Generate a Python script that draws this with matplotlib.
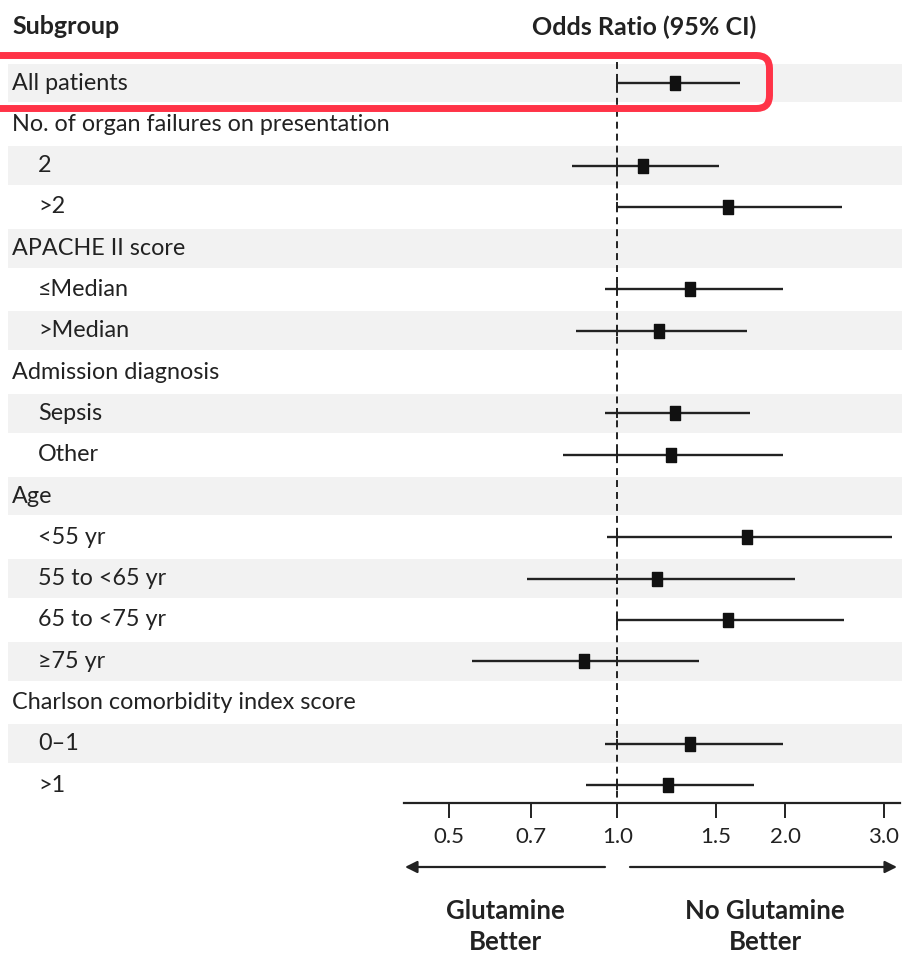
import numpy as np
import matplotlib
matplotlib.use("Agg")
import matplotlib.pyplot as plt
from matplotlib.patches import FancyBboxPatch
from matplotlib.transforms import IdentityTransform, blended_transform_factory

plt.rcParams['font.family'] = ['Lato', 'DejaVu Sans']
plt.rcParams['lines.scale_dashes'] = False

# subgroup rows, top to bottom
labels = ['All patients', 'No. of organ failures on presentation', '2', '>2',
          'APACHE II score', '≤Median', '>Median',
          'Admission diagnosis', 'Sepsis', 'Other',
          'Age', '<55 yr', '55 to <65 yr', '65 to <75 yr', '≥75 yr',
          'Charlson comorbidity index score', '0–1', '>1']
indent = [0, 0, 1, 1, 0, 1, 1, 0, 1, 1, 0, 1, 1, 1, 1, 0, 1, 1]
odds = [1.27, np.nan, 1.11, 1.58, np.nan, 1.35, 1.19, np.nan, 1.27, 1.25,
        np.nan, 1.71, 1.18, 1.58, 0.87, np.nan, 1.35, 1.235]
ci_lo = [1.00, np.nan, 0.83, 1.00, np.nan, 0.95, 0.845, np.nan, 0.95, 0.80,
         np.nan, 0.96, 0.69, 1.00, 0.55, np.nan, 0.95, 0.88]
ci_hi = [1.66, np.nan, 1.52, 2.53, np.nan, 1.98, 1.71, np.nan, 1.73, 1.98,
         np.nan, 3.11, 2.08, 2.55, 1.40, np.nan, 1.98, 1.76]
xticks = [0.5, 0.7, 1.0, 1.5, 2.0, 3.0]
xticklabels = ['0.5', '0.7', '1.0', '1.5', '2.0', '3.0']

W, H = 903, 955
fig = plt.figure(figsize=(W / 100, H / 100), dpi=100)

# axes in pixel geometry: x 404..900, y 42..803 (from top)
ax = fig.add_axes([404 / W, 1 - 803 / H, 496 / W, 761 / H])
ax.set_xscale('log')
ax.set_xlim(np.exp((404 - 617.3) / 242.5), np.exp((900 - 617.3) / 242.5))
row_h = 41.3
ax.set_ylim((803 - 83) / row_h, (42 - 83) / row_h)

ink = '#222222'
rows = np.arange(len(labels))

# shaded bands on alternating rows
for i in rows[::2]:
    ax.axhspan(i - 0.47, i + 0.47, xmin=(8 - 404) / 496, xmax=(903 - 404) / 496,
               color='#f2f2f2', zorder=0, clip_on=False, lw=0)

# reference line at OR = 1
ax.vlines(1.0, -0.5, (803 - 83) / row_h, colors=ink, lw=1.4,
          linestyles=(0, (5, 3.6)), zorder=1)

odds = np.array(odds)
ci_lo = np.array(ci_lo)
ci_hi = np.array(ci_hi)
ok = ~np.isnan(odds)
ax.hlines(rows[ok], ci_lo[ok], ci_hi[ok], colors=ink, lw=1.7, zorder=2)
ax.plot(np.ones(ok.sum()), rows[ok], ls='none', marker='|', ms=7, mew=1.4,
        color=ink, zorder=2)
box = [(-0.38, -0.5), (0.38, -0.5), (0.38, 0.5), (-0.38, 0.5), (-0.38, -0.5)]
ax.plot(odds[ok], rows[ok], ls='none', marker=box, ms=10, color='#111111', zorder=3)

# axis styling
for s in ['top', 'right', 'left']:
    ax.spines[s].set_visible(False)
ax.spines['bottom'].set_linewidth(1.6)
ax.spines['bottom'].set_color(ink)
ax.patch.set_alpha(0)
ax.set_yticks([])
ax.set_xticks(xticks)
ax.set_xticklabels(xticklabels)
ax.xaxis.set_minor_locator(matplotlib.ticker.NullLocator())
ax.tick_params(axis='x', length=11, width=1.4, color=ink, pad=6,
               labelsize=16, labelcolor=ink)

# row labels
tr = blended_transform_factory(fig.transFigure, ax.transData)
for i, (lab, ind) in enumerate(zip(labels, indent)):
    ax.text((38 if ind else 12) / W, i, lab, transform=tr, ha='left',
            va='center', fontsize=16.8, color=ink, clip_on=False)

# headers
fig.text(12 / W, 1 - 27 / H, 'Subgroup', fontsize=18, fontweight='bold',
         color=ink, ha='left', va='center')
fig.text(644 / W, 1 - 27 / H, 'Odds Ratio (95% CI)', fontsize=18,
         fontweight='bold', color=ink, ha='center', va='center')

# direction arrows
arrow = dict(arrowstyle='-|>', mutation_scale=18, lw=1.6, color=ink,
             shrinkA=0, shrinkB=0)
fig.add_artist(matplotlib.patches.FancyArrowPatch((605, H - 867), (405, H - 867),
               transform=IdentityTransform(), **arrow))
fig.add_artist(matplotlib.patches.FancyArrowPatch((630, H - 867), (897, H - 867),
               transform=IdentityTransform(), **arrow))
fig.text(505 / W, 1 - 926 / H, 'Glutamine\nBetter', fontsize=18.5,
         fontweight='bold', color=ink, ha='center', va='center', linespacing=1.35)
fig.text(765 / W, 1 - 926 / H, 'No Glutamine\nBetter', fontsize=18.5,
         fontweight='bold', color=ink, ha='center', va='center', linespacing=1.35)

# red highlight around the overall row
hl = FancyBboxPatch((-20, H - 108.5), 789.5, 53,
                    boxstyle='round,pad=0,rounding_size=13',
                    fill=False, ec='#ff3347', lw=5,
                    transform=IdentityTransform())
fig.add_artist(hl)

fig.savefig('out.png', dpi=100)
